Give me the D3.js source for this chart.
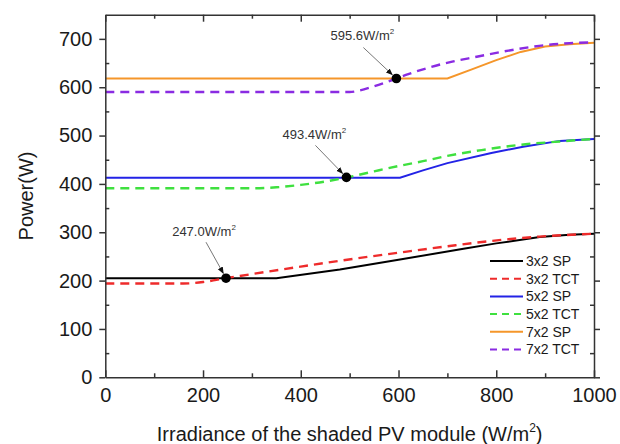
<!DOCTYPE html>
<html>
<head>
<meta charset="utf-8">
<style>
body { margin: 0; background: #fff; }
text { font-family: Arial, "Liberation Sans", sans-serif; fill: #1a1a1a; }
.frame path, .frame line { stroke: #333; stroke-width: 1.5px; fill: none; }
</style>
</head>
<body>
<script src="https://cdn.jsdelivr.net/npm/d3@7/dist/d3.min.js"></script>
<script>

// series: [irradiance W/m2, power W]
var sp3x2  = [[0,205],[350,205],[480,223],[600,243],[733,266],[800,277],[889,290],[950,295],[1000,297]];
var tct3x2 = [[0,194],[160,194],[200,197],[247,205],[303,214],[400,229],[480,241],[617,260],[700,271],[780,281],[889,291],[1000,297]];
var sp5x2  = [[0,413],[603,413],[650,428],[700,443],[790,464],[855,477],[930,489],[1000,493]];
var tct5x2 = [[0,391],[300,391],[350,393],[400,398],[450,405],[492.5,413],[550,426],[600,437],[650,447],[700,458],[770,470],[860,482],[920,487],[1000,493]];
var sp7x2  = [[0,618],[700,618],[750,637],[800,656],[850,673],[900,684],[950,689],[1000,692]];
var tct7x2 = [[0,590],[500,590],[520,593],[550,602],[595.6,618],[620,627],[660,640],[710,653],[760,663],[810,673],[870,683],[900,687],[950,691],[1000,693]];

var seriesNames = ["3x2 SP", "3x2 TCT", "5x2 SP", "5x2 TCT", "7x2 SP", "7x2 TCT"];
var seriesData = [sp3x2, tct3x2, sp5x2, tct5x2, sp7x2, tct7x2];
var seriesColors = ["#000000", "#ee2b2b", "#2323e6", "#3fe03f", "#f5962a", "#8a2be2"];
var seriesDashed = [false, true, false, true, false, true];

// crossing points marked on the chart
var crossX = [247.0, 493.4, 595.6];
var crossY = [205, 413.5, 618];
var crossLabels = ["247.0", "493.4", "595.6"];

var xMajor = [0, 200, 400, 600, 800, 1000];
var xMinor = [100, 300, 500, 700, 900];
var yMajor = [0, 100, 200, 300, 400, 500, 600, 700];
var yMinor = [50, 150, 250, 350, 450, 550, 650];

var width = 620, height = 444;
var plotL = 105.3, plotR = 594, plotT = 14.7, plotB = 377.3;

var x = d3.scaleLinear().domain([0, 1000]).range([plotL, plotR]);
var y = d3.scaleLinear().domain([0, 750]).range([plotB, plotT]);

var svg = d3.select("body").append("svg")
    .attr("width", width)
    .attr("height", height);

svg.append("defs").append("marker")
    .attr("id", "arrow")
    .attr("viewBox", "0 0 10 10")
    .attr("refX", 9).attr("refY", 5)
    .attr("markerWidth", 7).attr("markerHeight", 7)
    .attr("markerUnits", "userSpaceOnUse")
    .attr("orient", "auto")
  .append("path")
    .attr("d", "M0,1L10,5L0,9Z")
    .attr("fill", "#111");

// lines
var lineLin = d3.line().x(function(d){ return x(d[0]); }).y(function(d){ return y(d[1]); });
var lineSmooth = d3.line().x(function(d){ return x(d[0]); }).y(function(d){ return y(d[1]); })
    .curve(d3.curveMonotoneX);

seriesData.forEach(function(data, i) {
  svg.append("path")
      .datum(data)
      .attr("d", seriesDashed[i] ? lineSmooth : lineLin)
      .attr("fill", "none")
      .attr("stroke", seriesColors[i])
      .attr("stroke-width", seriesDashed[i] ? 2.4 : 2)
      .attr("stroke-dasharray", seriesDashed[i] ? "9,6" : null);
});

// frame + ticks
function frame(axis, tx, ty) {
  var g = svg.append("g").attr("class", "frame")
      .attr("transform", "translate(" + tx + "," + ty + ")")
      .call(axis);
  return g;
}

var gB = frame(d3.axisBottom(x).tickValues(xMajor).tickSizeInner(-7).tickSizeOuter(0).tickPadding(11)
    .tickFormat(d3.format("d")), 0, plotB);
gB.selectAll("text").style("font-size", "20px");
frame(d3.axisBottom(x).tickValues(xMinor).tickSizeInner(-4).tickSizeOuter(0).tickFormat(""), 0, plotB)
    .select(".domain").remove();
frame(d3.axisTop(x).tickValues(xMajor).tickSizeInner(-7).tickSizeOuter(0).tickFormat(""), 0, plotT);
frame(d3.axisTop(x).tickValues(xMinor).tickSizeInner(-4).tickSizeOuter(0).tickFormat(""), 0, plotT)
    .select(".domain").remove();

var gL = frame(d3.axisLeft(y).tickValues(yMajor).tickSizeInner(6).tickSizeOuter(0).tickPadding(7)
    .tickFormat(d3.format("d")), plotL, 0);
gL.selectAll("text").style("font-size", "20px");
frame(d3.axisLeft(y).tickValues(yMinor).tickSizeInner(-4).tickSizeOuter(0).tickFormat(""), plotL, 0)
    .select(".domain").remove();
frame(d3.axisRight(y).tickValues(yMajor).tickSizeInner(6).tickSizeOuter(0).tickFormat(""), plotR, 0);
frame(d3.axisRight(y).tickValues(yMinor).tickSizeInner(-4).tickSizeOuter(0).tickFormat(""), plotR, 0)
    .select(".domain").remove();

svg.selectAll(".frame text").attr("fill", "#1a1a1a").style("font-family", "Arial, 'Liberation Sans', sans-serif");

// axis titles
var xt = svg.append("text")
    .attr("x", (plotL + plotR) / 2)
    .attr("y", 441)
    .attr("text-anchor", "middle")
    .style("font-size", "20px");
xt.append("tspan").text("Irradiance of the shaded PV module (W/m");
xt.append("tspan").text("2").attr("dy", -9).style("font-size", "12px");
xt.append("tspan").text(")").attr("dy", 9);

svg.append("text")
    .attr("transform", "translate(33," + ((plotT + plotB) / 2) + ") rotate(-90)")
    .attr("text-anchor", "middle")
    .style("font-size", "20px")
    .text("Power(W)");

// annotations
var labelOff = [[-22, -42], [-32, -38], [-34, -39]];
var arrowOff = [[-20, -36], [-31, -32], [-33, -31]];

crossX.forEach(function(cx, i) {
  var px = x(cx), py = y(crossY[i]);
  var ax = px + arrowOff[i][0], ay = py + arrowOff[i][1];
  var len = Math.sqrt((px - ax) * (px - ax) + (py - ay) * (py - ay));
  var ex = px - (px - ax) / len * 5.5, ey = py - (py - ay) / len * 5.5;
  svg.append("line")
      .attr("x1", ax).attr("y1", ay)
      .attr("x2", ex).attr("y2", ey)
      .attr("stroke", "#777")
      .attr("stroke-width", 1)
      .attr("marker-end", "url(#arrow)");
  svg.append("circle")
      .attr("cx", px).attr("cy", py)
      .attr("r", 4.8)
      .attr("fill", "#000");
  var t = svg.append("text")
      .attr("x", px + labelOff[i][0])
      .attr("y", py + labelOff[i][1])
      .attr("text-anchor", "middle")
      .style("font-size", "13px")
      .style("fill", "#333");
  t.append("tspan").text(crossLabels[i] + "W/m");
  t.append("tspan").text("2").attr("dy", -6).style("font-size", "8px");
});

// legend
var legend = svg.append("g");
seriesNames.forEach(function(name, i) {
  var ly = 261 + i * 17.7;
  legend.append("line")
      .attr("x1", 490).attr("x2", 523)
      .attr("y1", ly).attr("y2", ly)
      .attr("stroke", seriesColors[i])
      .attr("stroke-width", 2)
      .attr("stroke-dasharray", seriesDashed[i] ? "7,5" : null);
  legend.append("text")
      .attr("x", 526)
      .attr("y", ly)
      .attr("dy", "0.35em")
      .style("font-size", "14px")
      .text(name);
});

</script>
</body>
</html>
